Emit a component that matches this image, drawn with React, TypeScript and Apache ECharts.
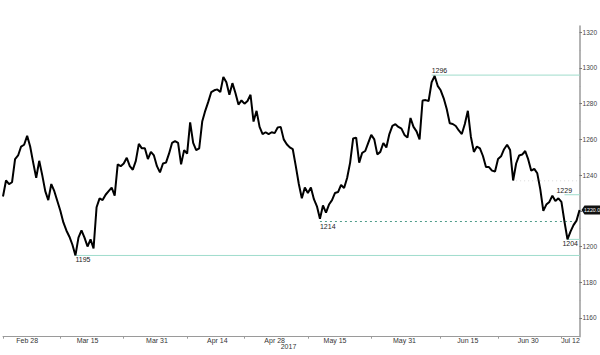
import React, { useEffect, useRef } from "react";
import * as echarts from "echarts";

// Gold spot price, Feb–Jul 2017 (~2 samples per trading day)
const prices: number[] = [
  1228, 1237, 1235, 1236, 1249, 1251, 1256, 1257, 1262, 1256,
  1247, 1238.5, 1248, 1240, 1231, 1226, 1235, 1231, 1225.5, 1220,
  1213.5, 1209, 1205.5, 1201, 1195, 1205, 1209, 1205, 1200, 1204,
  1199, 1222, 1227, 1226, 1229, 1231, 1233, 1228.5, 1246, 1245,
  1246.5, 1249.7, 1245, 1243, 1248, 1257.5, 1255, 1255, 1249, 1253,
  1251, 1245, 1241.5, 1246.5, 1247, 1252, 1258, 1259, 1258, 1246,
  1254, 1252, 1269.5, 1258, 1254, 1255, 1270, 1276, 1281, 1286.5,
  1287.5, 1288, 1286.5, 1295, 1292, 1285, 1291.5, 1286, 1279.5, 1281.8,
  1280, 1281.5, 1285, 1270, 1276, 1267, 1263, 1264, 1263, 1264,
  1263.5, 1266.7, 1267, 1260, 1257.3, 1255.5, 1254.5, 1245, 1235, 1227,
  1233, 1230, 1233, 1226.5, 1222.5, 1215.5, 1223, 1219, 1223.5, 1226,
  1230, 1230.5, 1234.5, 1232.8, 1238.4, 1247, 1260.5, 1261, 1247, 1252.5,
  1253.5, 1258, 1262.5, 1260, 1251.6, 1253, 1258, 1255.5, 1263, 1267.6,
  1268.5, 1267, 1266, 1262.5, 1261, 1272, 1267, 1264.5, 1260, 1281.8,
  1282, 1281.5, 1292, 1295.5, 1290, 1287.5, 1283, 1277, 1269, 1268.6,
  1267.5, 1265, 1263, 1268.6, 1276, 1261.5, 1253, 1256, 1255, 1250.7,
  1244.5, 1244.5, 1242.5, 1242, 1249, 1250.5, 1254.5, 1257, 1254, 1237,
  1246.5, 1251, 1251.5, 1253.5, 1248.8, 1242.5, 1243.5, 1241, 1232, 1220,
  1223.5, 1225, 1228.5, 1225.5, 1227, 1225, 1214, 1204, 1208.3, 1212,
  1214.5, 1220.5,
];
const categories: string[] = prices.map((_, i) => String(i));

const xTickSlots = [0, 19, 40, 61, 80, 101, 122, 145, 164, 185];
const xLabelSlots = [8, 28, 51, 71, 90, 110, 133, 154, 174, 188];
const xLabelTexts = ["Feb 28", "Mar 15", "Mar 31", "Apr 14", "Apr 28", "May 15", "May 31", "Jun 15", "Jun 30", "Jul 12"];
const yMajorTicks = [1160, 1180, 1200, 1220, 1240, 1260, 1280, 1300, 1320];
const yLabelValues = [1160, 1180, 1200, 1240, 1260, 1280, 1300, 1320]; // 1220 sits under the last-price tag
const yMinorTicks = [1170, 1190, 1210, 1230, 1250, 1270, 1290, 1310];
const yearLabel = "2017";

// Horizontal level annotations
const levelValues = [1296, 1195, 1214, 1229, 1204];
const levelTexts = ["1296", "1195", "1214", "1229", "1204"];
const levelStartSlots = [142.3, 23.7, 104.7, 185.7, 187.3];
const levelDashed = [false, false, true, false, false];
const faintLevel = 1236.8;
const faintStartSlot = 169.7;
const lastPriceText = "1220.0";

const W = 600;
const H = 355;
const GRID = { left: 3, right: 20, top: 26, bottom: 18.3 };
const FONT = "Liberation Sans, Arial, sans-serif";

export default function App() {
  const ref = useRef<HTMLDivElement>(null);
  useEffect(() => {
    document.body.style.margin = "0";
    const chart = echarts.init(ref.current!, null, { renderer: "svg" });
    chart.setOption({
      animation: false,
      backgroundColor: "#ffffff",
      grid: { ...GRID, containLabel: false },
      xAxis: {
        type: "category",
        data: categories,
        boundaryGap: false,
        axisLine: { lineStyle: { color: "#9a9a9a", width: 1 } },
        axisTick: {
          show: true,
          length: 2,
          interval: (i: number) => xTickSlots.includes(i),
          lineStyle: { color: "#9a9a9a" },
        },
        axisLabel: {
          interval: (i: number) => xLabelSlots.includes(i),
          formatter: (_v: string, i: number) => xLabelTexts[xLabelSlots.indexOf(i)] ?? "",
          fontSize: 7,
          color: "#333",
          fontFamily: FONT,
          margin: 0,
        },
        splitLine: { show: false },
      },
      yAxis: [
        {
          type: "value",
          position: "right",
          min: 1149.5,
          max: 1323.5,
          axisLine: { show: true, lineStyle: { color: "#9a9a9a", width: 1.5 } },
          axisTick: { show: true, length: 2.5, customValues: yMajorTicks, lineStyle: { color: "#777" } },
          axisLabel: {
            customValues: yLabelValues,
            formatter: (v: number) => String(v),
            fontSize: 6.5,
            color: "#444",
            fontFamily: FONT,
            margin: 3,
          },
          splitLine: { show: false },
        },
        {
          type: "value",
          position: "right",
          min: 1149.5,
          max: 1323.5,
          axisLine: { show: false },
          axisTick: { show: true, length: 1.2, customValues: yMinorTicks, lineStyle: { color: "#aaa" } },
          axisLabel: { show: false },
          splitLine: { show: false },
        },
      ],
      series: [
        {
          type: "line",
          data: prices,
          showSymbol: false,
          lineStyle: { color: "#000", width: 2 },
          z: 5,
        },
      ],
    });

    const px = (slot: number, v: number) =>
      chart.convertToPixel({ xAxisIndex: 0, yAxisIndex: 0 }, [slot, v]) as number[];
    const rightX = W - GRID.right;
    const graphics: any[] = [];
    levelValues.forEach((v, k) => {
      const [x0, y] = px(levelStartSlots[k], v);
      graphics.push({
        type: "line",
        shape: { x1: x0, y1: y, x2: rightX, y2: y },
        style: levelDashed[k]
          ? { stroke: "#4f9c8a", lineWidth: 1, lineDash: [2, 3] }
          : { stroke: "#9fdccc", lineWidth: 1 },
        z: 3,
      });
      const above = v === 1296 || v === 1229;
      let tx = x0;
      let align = "left";
      if (v === 1229) tx = x0 - 8;
      if (v === 1204) { tx = rightX - 2; align = "right"; }
      graphics.push({
        type: "text",
        x: tx,
        y: above ? y - 1 : y + 1,
        style: {
          text: levelTexts[k],
          fill: "#222",
          font: `7px ${FONT}`,
          textAlign: align,
          textVerticalAlign: above ? "bottom" : "top",
        },
        z: 10,
      });
    });
    {
      const [fx, fy] = px(faintStartSlot, faintLevel);
      graphics.push({
        type: "line",
        shape: { x1: fx, y1: fy, x2: rightX - 3, y2: fy },
        style: { stroke: "#d8d8d8", lineWidth: 1, lineDash: [1, 3] },
        z: 2,
      });
    }
    {
      const [, ly] = px(prices.length - 1, prices[prices.length - 1]);
      const x0 = rightX + 1.5;
      graphics.push({
        type: "polygon",
        shape: {
          points: [
            [x0, ly],
            [x0 + 3, ly - 4.5],
            [W, ly - 4.5],
            [W, ly + 4.5],
            [x0 + 3, ly + 4.5],
          ],
        },
        style: { fill: "#111" },
        z: 20,
      });
      graphics.push({
        type: "text",
        x: x0 + 2.5,
        y: ly,
        style: {
          text: lastPriceText,
          fill: "#fff",
          font: `5.3px ${FONT}`,
          textAlign: "left",
          textVerticalAlign: "middle",
        },
        z: 21,
      });
    }
    graphics.push({
      type: "text",
      x: 288.5,
      y: H - 8.5,
      style: {
        text: yearLabel,
        fill: "#333",
        font: `7px ${FONT}`,
        textAlign: "center",
        textVerticalAlign: "middle",
      },
    });
    chart.setOption({ graphic: graphics });
    return () => chart.dispose();
  }, []);
  return (
    <div
      ref={ref}
      style={{ position: "absolute", left: 0, top: 0, width: W, height: H }}
    />
  );
}
